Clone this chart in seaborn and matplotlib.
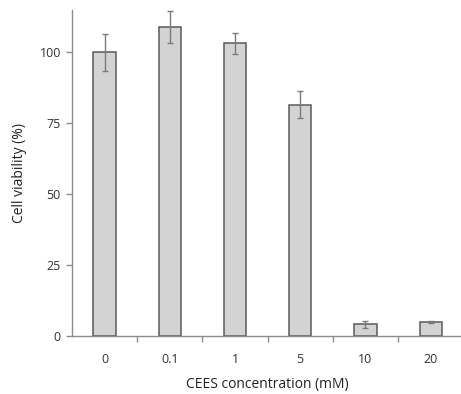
import numpy as np
import pandas as pd
import seaborn as sns
import matplotlib.pyplot as plt
from matplotlib.ticker import FixedLocator

# Data
concentrations = ["0", "0.1", "1", "5", "10", "20"]
viability = [100.0, 108.9, 103.2, 81.5, 4.1, 4.9]
viability_sd = [6.4, 5.6, 3.7, 4.8, 1.3, 0.4]

df = pd.DataFrame({"conc": concentrations, "viability": viability})

sns.set_theme(style="white")
plt.rcParams.update({
    "font.family": ["Open Sans", "DejaVu Sans"],
    "font.size": 9,
})

fig, ax = plt.subplots(figsize=(4.61, 3.94), dpi=100)
fig.subplots_adjust(left=0.156, right=1.005, bottom=0.147, top=0.975)

sns.barplot(data=df, x="conc", y="viability", order=concentrations,
            color="#d3d3d3", edgecolor="#5a5a5a", linewidth=1.1,
            width=0.34, errorbar=None, saturation=1, ax=ax)

xpos = ax.get_xticks()
ax.errorbar(xpos, viability, yerr=viability_sd, fmt="none",
            ecolor="#7a7a7a", elinewidth=1.0, capsize=2.5, capthick=1.0)

ax.set_xlim(-0.5, 5.5)
ax.set_ylim(0, 115)
ax.set_yticks([0, 25, 50, 75, 100])

for side in ["top", "right"]:
    ax.spines[side].set_visible(False)
for side in ["left", "bottom"]:
    ax.spines[side].set_color("#8c8c8c")
    ax.spines[side].set_linewidth(1.0)

# category separators as downward ticks
ax.xaxis.set_minor_locator(FixedLocator([0.5, 1.5, 2.5, 3.5, 4.5]))
ax.tick_params(axis="x", which="major", length=0, pad=12, colors="#333333", labelsize=9)
ax.tick_params(axis="x", which="minor", direction="out", length=4, width=1, color="#8c8c8c", bottom=True)
ax.tick_params(axis="y", direction="out", length=4, width=1, color="#8c8c8c", left=True,
               labelcolor="#333333", labelsize=9, pad=4)

ax.set_xlabel("CEES concentration (mM)", fontsize=10, color="#222222", labelpad=8)
ax.set_ylabel("Cell viability (%)", fontsize=10, color="#222222", labelpad=9)

fig.savefig("out.png", dpi=100)
